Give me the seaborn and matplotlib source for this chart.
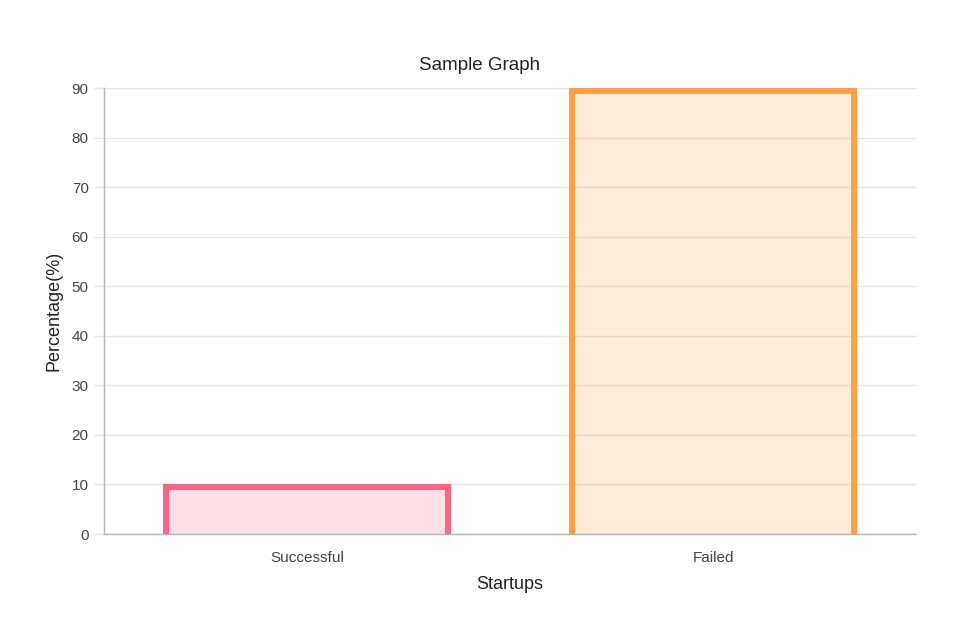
import matplotlib
matplotlib.use("Agg")
import matplotlib.pyplot as plt
from matplotlib.patches import Rectangle
import seaborn as sns
import pandas as pd

categories = ["Successful", "Failed"]
values = [10, 90]
border_colors = ["#ff6384", "#ff9f40"]
fill_colors = [(1.0, 0.388, 0.518, 0.2), (1.0, 0.624, 0.251, 0.2)]
y_ticks = [0, 10, 20, 30, 40, 50, 60, 70, 80, 90]

sns.set_theme(style="white")
plt.rcParams["font.family"] = ["Liberation Sans", "DejaVu Sans"]

df = pd.DataFrame({"Startups": categories, "Percentage": values})

fig = plt.figure(figsize=(9.6, 6.4), dpi=100)
ax = fig.add_axes([104/960, 1-534/640, (916-104)/960, (534-88)/640])

sns.barplot(data=df, x="Startups", y="Percentage", hue="Startups",
            palette=fill_colors, width=0.71, legend=False, ax=ax,
            saturation=1, zorder=2)

for p, ec, fc in zip(ax.patches, border_colors, fill_colors):
    p.set_facecolor(fc)
    p.set_edgecolor("none")
    x, w, h = p.get_x(), p.get_width(), p.get_height()
    r = Rectangle((x, -20), w, h + 20, fill=False, edgecolor=ec,
                  linewidth=8.6, zorder=3)
    ax.add_patch(r)
    r.set_clip_path(p)

ax.set_ylim(0, 90)
ax.set_xlim(-0.5, 1.5)
ax.set_yticks(y_ticks)
ax.yaxis.grid(True, color="#e5e5e5", linewidth=1, zorder=0)
ax.xaxis.grid(False)
ax.set_axisbelow(True)

for s in ["top", "right"]:
    ax.spines[s].set_visible(False)
for s in ["left", "bottom"]:
    ax.spines[s].set_color("#b5b5b5")
    ax.spines[s].set_linewidth(1)

ax.tick_params(axis="y", which="both", left=True, length=7, width=1,
               color="#e5e5e5", labelsize=11, labelcolor="#444444", pad=4)
ax.tick_params(axis="x", which="both", bottom=False, labelsize=11,
               labelcolor="#444444", pad=6)

ax.set_title("Sample Graph", fontsize=13.5, color="#222222", pad=13,
             x=(480 - 104) / 812)
ax.set_ylabel("Percentage(%)", fontsize=13, color="#222222", labelpad=7)
ax.set_xlabel("Startups", fontsize=13, color="#222222", labelpad=8)

fig.savefig("out.png", dpi=100)
